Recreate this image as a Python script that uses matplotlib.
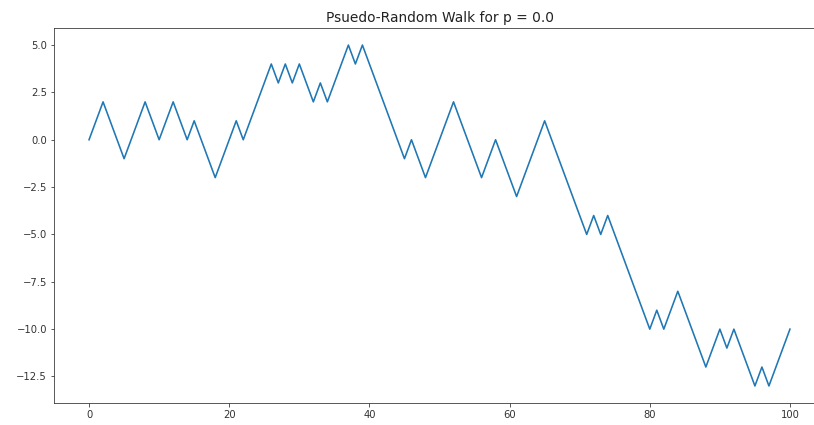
import matplotlib
matplotlib.use("Agg")
import matplotlib.pyplot as plt

# position of the walk after each step (101 points, steps 0..100)
walk = [
    0, 1, 2, 1, 0, -1, 0, 1, 2, 1,
    0, 1, 2, 1, 0, 1, 0, -1, -2, -1,
    0, 1, 0, 1, 2, 3, 4, 3, 4, 3,
    4, 3, 2, 3, 2, 3, 4, 5, 4, 5,
    4, 3, 2, 1, 0, -1, 0, -1, -2, -1,
    0, 1, 2, 1, 0, -1, -2, -1, 0, -1,
    -2, -3, -2, -1, 0, 1, 0, -1, -2, -3,
    -4, -5, -4, -5, -4, -5, -6, -7, -8, -9,
    -10, -9, -10, -9, -8, -9, -10, -11, -12, -11,
    -10, -11, -10, -11, -12, -13, -12, -13, -12, -11,
    -10,
]
steps = list(range(len(walk)))
p = 0.0

fig = plt.figure(figsize=(814 / 72, 425 / 72), dpi=72)
# axes runs past the right edge of the image, as in the cropped original
ax = fig.add_axes([54 / 814, 1 - 403 / 425, 771 / 814, 375 / 425])
ax.plot(steps, walk, color="#1f77b4", linewidth=1.6)
ax.set_title(f"Psuedo-Random Walk for p = {p}", fontsize=13.8, color="#222222")
ax.set_xticks([0, 20, 40, 60, 80, 100])
ax.set_yticks([5.0, 2.5, 0.0, -2.5, -5.0, -7.5, -10.0, -12.5])
ax.tick_params(labelsize=10, colors="#333333")
for spine in ax.spines.values():
    spine.set_color("#333333")

fig.savefig("out.png", dpi=72)
